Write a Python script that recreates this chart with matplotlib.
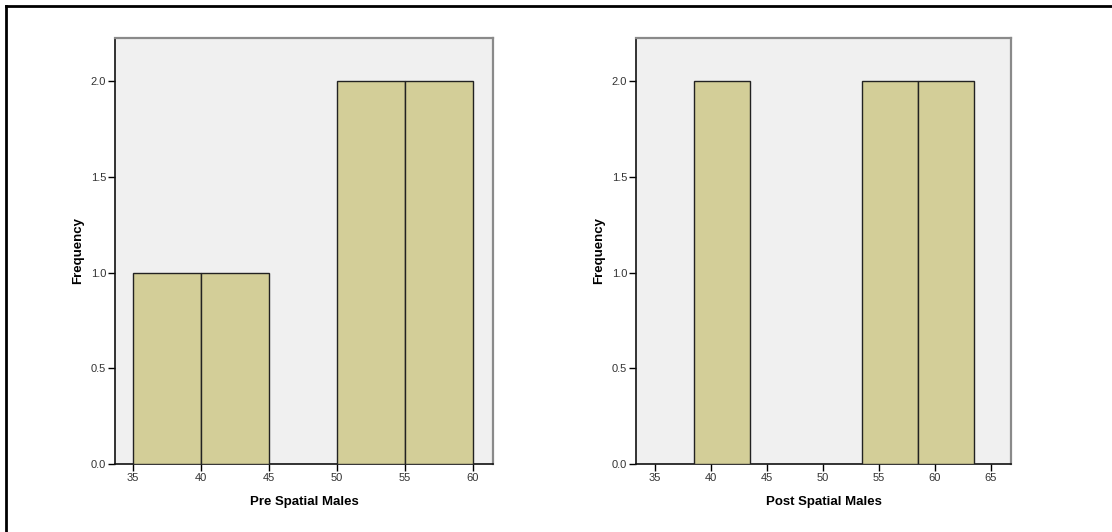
import matplotlib
matplotlib.use('AGG')
import matplotlib.pyplot as plt
from matplotlib.lines import Line2D

plt.rcParams['font.family'] = ['Liberation Sans', 'DejaVu Sans']

# histogram bins and counts
pre_edges = [35, 40, 45, 50, 55]
pre_counts = [1, 1, 0, 2, 2]
post_edges = [38.5, 43.5, 48.5, 53.5, 58.5]
post_counts = [2, 0, 0, 2, 2]
bin_width = 5

pre_xticks = [35, 40, 45, 50, 55, 60]
post_xticks = [35, 40, 45, 50, 55, 60, 65]
yticks = [0.0, 0.5, 1.0, 1.5, 2.0]

bar_color = '#d3ce98'
bg_color = '#f0f0f0'

fig = plt.figure(figsize=(11.12, 5.32), dpi=100)

# outer frame (only top and left visible in the original)
fig.add_artist(Line2D([6 / 1112, 6 / 1112], [0, 1 - 6 / 532], color='black', lw=2))
fig.add_artist(Line2D([6 / 1112, 1], [1 - 6 / 532, 1 - 6 / 532], color='black', lw=2))


def draw_hist(ax, edges, counts, xticks, xlim, xlabel):
    ax.set_facecolor(bg_color)
    ax.bar([e for e, c in zip(edges, counts) if c > 0],
           [c for c in counts if c > 0],
           width=bin_width, align='edge', color=bar_color,
           edgecolor='#222222', linewidth=1.0, zorder=3)
    ax.set_xlim(*xlim)
    ax.set_ylim(0, 2.225)
    ax.set_xticks(xticks)
    ax.set_yticks(yticks)
    ax.set_yticklabels(['%.1f' % v for v in yticks])
    ax.tick_params(axis='both', labelsize=8, labelcolor='#333333',
                   length=5, width=1, direction='out', pad=1.5)
    ax.tick_params(top=False, right=False)
    for side in ['left', 'bottom']:
        ax.spines[side].set_color('#111111')
        ax.spines[side].set_linewidth(1.2)
    for side in ['top', 'right']:
        ax.spines[side].set_color('#8a8a8a')
        ax.spines[side].set_linewidth(1.6)
    ax.set_xlabel(xlabel, fontsize=9.5, fontweight='bold', labelpad=9)
    ax.set_ylabel('Frequency', fontsize=9.5, fontweight='bold', labelpad=5)


ax1 = fig.add_axes([115 / 1112, 1 - 464 / 532, 378 / 1112, 426 / 532])
draw_hist(ax1, pre_edges, pre_counts, pre_xticks, (33.68, 61.47), 'Pre Spatial Males')

ax2 = fig.add_axes([636 / 1112, 1 - 464 / 532, 375 / 1112, 426 / 532])
draw_hist(ax2, post_edges, post_counts, post_xticks, (33.3, 66.8), 'Post Spatial Males')

plt.savefig('out.png', dpi=100)
